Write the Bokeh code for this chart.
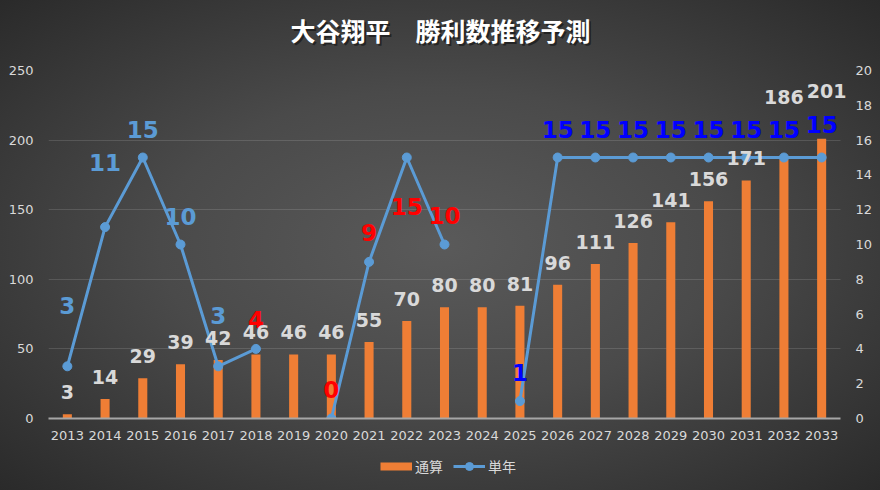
from bokeh.plotting import figure
from bokeh.layouts import column
from bokeh.models import (ColumnDataSource, Range1d, LinearAxis, Legend, Label,
                          LegendItem, FixedTicker, InlineStyleSheet, LabelSet)
from bokeh.core.properties import value
from bokeh.embed import file_html
from bokeh.resources import INLINE

nan = float("nan")

# ---- data ----
title_text = "大谷翔平　勝利数推移予測"
years = ["2013", "2014", "2015", "2016", "2017", "2018", "2019", "2020", "2021", "2022", "2023",
         "2024", "2025", "2026", "2027", "2028", "2029", "2030", "2031", "2032", "2033"]
cumulative = [3, 14, 29, 39, 42, 46, 46, 46, 55, 70, 80, 80, 81, 96, 111, 126, 141, 156, 171, 186, 201]
annual = [3, 11, 15, 10, 3, 4, nan, 0, 9, 15, 10, nan, 1, 15, 15, 15, 15, 15, 15, 15, 15]
left_ticks = [0, 50, 100, 150, 200, 250]
right_ticks = [0, 2, 4, 6, 8, 10, 12, 14, 16, 18, 20]
series_names = ["通算", "単年"]

year_nums = [int(y) for y in years]

# ---- styles ----
STEEL = "#5B9BD5"
RED = "#FF0000"
BLUE = "#0000FF"
ORANGE = "#EF7E35"
annual_label_colors = [STEEL] * 5 + [RED] * 7 + [BLUE] * 9
annual_label_dy = [61, 65, 28, 28, 51, 29, 0, 29, 29, -49, 29, 0, 29, 28, 28, 28, 28, 28, 28, 28, 33]
cum_label_dy = [22] * 19 + [63, 48]
cum_label_dx = [0] * 20 + [5]

annual_labels = ["" if v != v else str(int(v)) for v in annual]
cum_labels = [str(v) for v in cumulative]

src = ColumnDataSource(dict(
    year=year_nums, cum=cumulative, annual=annual,
    alab=annual_labels, acol=annual_label_colors,
    ady=[-d for d in annual_label_dy],
    clab=cum_labels, cdy=cum_label_dy, cdx=cum_label_dx,
))

def strip(h):
    f = figure(width=880, height=h, x_range=Range1d(0, 1), y_range=Range1d(0, 1),
               x_axis_type=None, y_axis_type=None, output_backend="svg", toolbar_location=None,
               min_border=0)
    f.border_fill_color = None
    f.background_fill_color = None
    f.outline_line_color = None
    return f

# ---- title strip ----
TITLE_H = 62
tt = strip(TITLE_H)
title_y = 1 - 29 / TITLE_H
tt.add_layout(Label(x=0.5, y=title_y, text=title_text, text_align="center", text_baseline="middle",
                    x_offset=-6, y_offset=-2, text_color="#000000", text_alpha=0.45,
                    text_font="Noto Sans CJK JP", text_font_style="bold", text_font_size="25px"))
tt.add_layout(Label(x=0.5, y=title_y, text=title_text, text_align="center", text_baseline="middle",
                    x_offset=-8, text_color="#FFFFFF",
                    text_font="Noto Sans CJK JP", text_font_style="bold", text_font_size="25px"))

# ---- main chart ----
x_lo = year_nums[0] - 0.5
x_hi = year_nums[-1] + 0.5
x_extra = 8 / (792 / len(years))   # a little room past the last category for the "201" label

p = figure(x_range=Range1d(x_lo, x_hi + x_extra), y_range=Range1d(0, 250),
           frame_width=800, frame_height=348, output_backend="svg", toolbar_location=None,
           min_border_left=48, min_border_right=32, min_border_top=8, min_border_bottom=28)
p.extra_y_ranges = {"right": Range1d(0, 20)}

p.border_fill_color = None
p.background_fill_color = None
p.outline_line_color = None

# bars
bars = p.vbar(x="year", top="cum", width=0.24, source=src, fill_color=ORANGE, line_color=None)

# line
line = p.line(x="year", y="annual", source=src, y_range_name="right", line_color=STEEL, line_width=3)
pts = p.scatter(x="year", y="annual", source=src, y_range_name="right", size=9,
                fill_color=STEEL, line_color=STEEL)

# labels
cum_labelset = LabelSet(x="year", y="cum", text="clab", source=src, x_offset="cdx", y_offset="cdy",
                        text_align="center", text_baseline="middle", text_color="#D9D9D9",
                        text_font=value("DejaVu Sans"), text_font_style="bold", text_font_size="19px")
p.add_layout(cum_labelset)
p.text(x="year", y="annual", text="alab", source=src, y_range_name="right", y_offset="ady",
       text_align="center", text_baseline="middle", text_color="acol",
       text_font=value("DejaVu Sans"), text_font_style="bold", text_font_size="23px")

# axes
p.yaxis.ticker = FixedTicker(ticks=left_ticks)
right_axis = LinearAxis(y_range_name="right", ticker=FixedTicker(ticks=right_ticks))
p.add_layout(right_axis, "right")

for ax in [p.yaxis[0], right_axis]:
    ax.axis_line_color = None
    ax.major_tick_line_color = None
    ax.minor_tick_line_color = None
    ax.major_tick_out = 0
    ax.minor_tick_out = 0
    ax.major_label_text_color = "#D9D9D9"
    ax.major_label_text_font = "DejaVu Sans"
    ax.major_label_text_font_size = "13px"
p.yaxis[0].major_label_standoff = 15
right_axis.major_label_standoff = 7

p.xaxis.ticker = FixedTicker(ticks=year_nums)
p.xaxis.major_label_overrides = {n: s for n, s in zip(year_nums, years)}
p.xaxis.bounds = (x_lo, x_hi)
p.xaxis.axis_line_color = "#A6A6A6"
p.xaxis.axis_line_width = 2
p.xaxis.major_tick_line_color = None
p.xaxis.minor_tick_line_color = None
p.xaxis.major_tick_out = 0
p.xaxis.minor_tick_out = 0
p.xaxis.major_label_standoff = 12
p.xaxis.major_label_text_color = "#D9D9D9"
p.xaxis.major_label_text_font = "DejaVu Sans"
p.xaxis.major_label_text_font_size = "13px"

p.xgrid.grid_line_color = None
p.ygrid.ticker = FixedTicker(ticks=left_ticks)
p.ygrid.grid_line_color = "#FFFFFF"
p.ygrid.grid_line_alpha = 0.13
g = p.ygrid[0]
if "cross_bounds" in g.properties():
    g.cross_bounds = (x_lo, x_hi)

# ---- legend strip ----
lg = strip(44)
# renderers only used for their legend swatches; their data lie outside the strip's ranges
lg_bar = lg.line(x=cumulative, y=cumulative, line_color=ORANGE, line_width=8)
lg_line = lg.line(x=cumulative, y=cumulative, line_color=STEEL, line_width=3)
lg_pts = lg.scatter(x=cumulative, y=cumulative, size=9, fill_color=STEEL, line_color=STEEL)
legend = Legend(items=[LegendItem(label=series_names[0], renderers=[lg_bar]),
                       LegendItem(label=series_names[1], renderers=[lg_line, lg_pts])],
                orientation="horizontal", location="top_center",
                background_fill_alpha=0, border_line_alpha=0,
                label_text_color="#D9D9D9", label_text_font="Noto Sans CJK JP",
                label_text_font_size="14px", glyph_width=32, glyph_height=20,
                label_height=20, label_standoff=3, spacing=10, padding=0, margin=10)
lg.add_layout(legend, "center")

layout = column(tt, p, lg, spacing=0, stylesheets=[InlineStyleSheet(css=":host { background: radial-gradient(ellipse at 50% 50%, #5a5a5a 0%, #4a4a4a 45%, #2a2a2a 100%); }")])

open("out.html", "w").write(file_html(layout, INLINE))
